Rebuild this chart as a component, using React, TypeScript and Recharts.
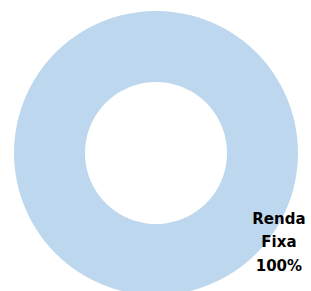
import { Pie, PieChart, Cell } from "recharts";

const CATEGORIES = ["Renda Fixa"];
const VALUES = [100];
const COLORS = ["#BDD7EE"];

const data = CATEGORIES.map((name, i) => ({ name, value: VALUES[i] }));

// Excel puts the single-slice label near the lower-right edge of the ring
const LABEL_ANGLE = -36;

function renderLabel(props: any) {
  const { cx, cy, outerRadius, name, percent } = props;
  const r = outerRadius * 1.07;
  const rad = (LABEL_ANGLE * Math.PI) / 180;
  const x = cx + r * Math.cos(rad);
  const y = cy - r * Math.sin(rad);
  const words = String(name).split(" ");
  const lines = [...words, `${Math.round(percent * 100)}%`];
  const lh = 23.5;
  const y0 = y - ((lines.length - 1) * lh) / 2;
  return (
    <text
      x={x}
      y={y0}
      textAnchor="middle"
      dominantBaseline="central"
      fontFamily="'DejaVu Sans', sans-serif"
      fontWeight="bold"
      fontSize={15}
      fill="#000"
    >
      {lines.map((t, i) => (
        <tspan key={i} x={x} y={y0 + i * lh}>
          {t}
        </tspan>
      ))}
    </text>
  );
}

export default function App() {
  return (
    <div style={{ position: "absolute", left: 0, top: 0, width: 311, height: 291, background: "#fff" }}>
      <PieChart width={311} height={291} margin={{ top: 0, right: 0, bottom: 0, left: 0 }}>
        <Pie
          data={data}
          dataKey="value"
          nameKey="name"
          cx={156}
          cy={153}
          innerRadius={71}
          outerRadius={142}
          startAngle={90}
          endAngle={-270}
          stroke="none"
          label={renderLabel}
          labelLine={false}
          isAnimationActive={false}
        >
          {data.map((_, i) => (
            <Cell key={i} fill={COLORS[i % COLORS.length]} />
          ))}
        </Pie>
      </PieChart>
    </div>
  );
}
